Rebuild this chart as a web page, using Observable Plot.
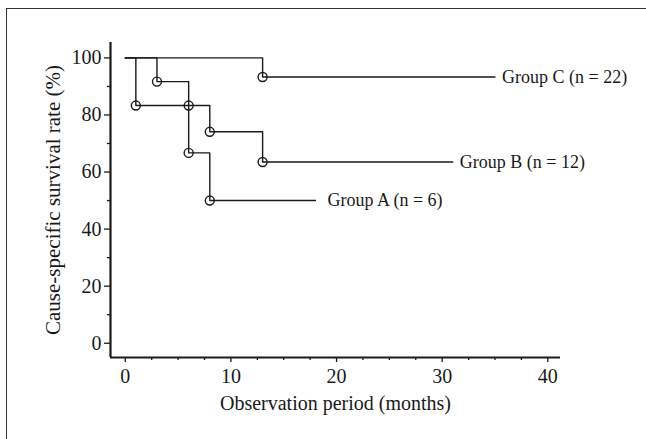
<!DOCTYPE html>
<html>
<head>
<meta charset="utf-8">
<script src="https://cdn.jsdelivr.net/npm/d3@7"></script>
<script src="https://cdn.jsdelivr.net/npm/@observablehq/plot@0.6"></script>
<style>
  html, body { margin: 0; padding: 0; background: #fff; overflow: hidden; }
  #wrap { position: relative; width: 646px; height: 439px; }
  #frame { position: absolute; left: 6px; top: 8px; width: 700px; height: 500px;
           border-left: 1.5px solid #333; border-top: 1.5px solid #333; pointer-events: none; }
  #chart { position: absolute; left: 0; top: 0; }
</style>
</head>
<body>
<div id="wrap"><div id="chart"></div><div id="frame"></div></div>
<script>
// Kaplan–Meier step data
const groupNames = ["Group A (n = 6)", "Group B (n = 12)", "Group C (n = 22)"];
const timesA = [0, 1, 6, 8, 18];
const survA  = [100, 83.3, 66.7, 50, 50];
const timesB = [0, 3, 6, 8, 13, 31];
const survB  = [100, 91.7, 83.3, 74.1, 63.5, 63.5];
const timesC = [0, 13, 35];
const survC  = [100, 93.3, 93.3];
const xTicks = [0, 10, 20, 30, 40];
const yTicks = [0, 20, 40, 60, 80, 100];
const xLabel = "Observation period (months)";
const yLabel = "Cause-specific survival rate (%)";

const series = [
  {name: groupNames[0], t: timesA, s: survA, dx: 12},
  {name: groupNames[1], t: timesB, s: survB, dx: 7},
  {name: groupNames[2], t: timesC, s: survC, dx: 7}
];
const rows = series.flatMap(g => g.t.map((t, i) => ({group: g.name, t, s: g.s[i]})));
const events = series.flatMap(g => g.t.slice(1, -1).map((t, i) => ({group: g.name, t, s: g.s[i + 1]})));

const xDomain = [-1.4, 41.2];
const yDomain = [-5, 105.4];
const minorX = d3.range(0, 41, 2.5).filter(v => !xTicks.includes(v));
const minorY = d3.range(10, 101, 20);
const ink = "#1a1a1a";

const plot = Plot.plot({
  width: 646,
  height: 439,
  marginLeft: 110,
  marginRight: 86,
  marginTop: 42,
  marginBottom: 82,
  style: {fontFamily: "'Liberation Serif', 'Times New Roman', serif", fontSize: "20px", color: ink, background: "transparent"},
  x: {domain: xDomain},
  y: {domain: yDomain},
  marks: [
    Plot.axisX({ticks: xTicks, tickSize: 5, tickPadding: 6, label: null, fontSize: 20, strokeWidth: 1.3}),
    Plot.axisX({ticks: minorX, tickSize: 3, tickFormat: () => "", label: null, strokeWidth: 1.3}),
    Plot.axisY({ticks: yTicks, tickSize: 6, tickPadding: 3, label: null, fontSize: 20, strokeWidth: 1.3}),
    Plot.axisY({ticks: minorY, tickSize: 3, tickFormat: () => "", label: null, strokeWidth: 1.3}),
    Plot.ruleX([xDomain[0]], {stroke: ink, strokeWidth: 2.2}),
    Plot.ruleY([yDomain[0]], {stroke: ink, strokeWidth: 2.2}),
    Plot.line(rows, {x: "t", y: "s", z: "group", curve: "step-after", stroke: ink, strokeWidth: 1.4}),
    Plot.dot(events, {x: "t", y: "s", r: 4.5, stroke: ink, strokeWidth: 1.4, fill: "none"}),
    ...series.map(g => Plot.text([g], {
      x: d => d.t[d.t.length - 1], y: d => d.s[d.s.length - 1], text: "name",
      textAnchor: "start", dx: g.dx, fontSize: 18, fill: ink
    })),
    Plot.text([xLabel], {frameAnchor: "bottom", dy: 52, fontSize: 20, fill: ink}),
    Plot.text([yLabel], {frameAnchor: "left", textAnchor: "middle", rotate: -90, dx: -57, fontSize: 21, fill: ink})
  ]
});
document.getElementById("chart").appendChild(plot);
</script>
</body>
</html>
